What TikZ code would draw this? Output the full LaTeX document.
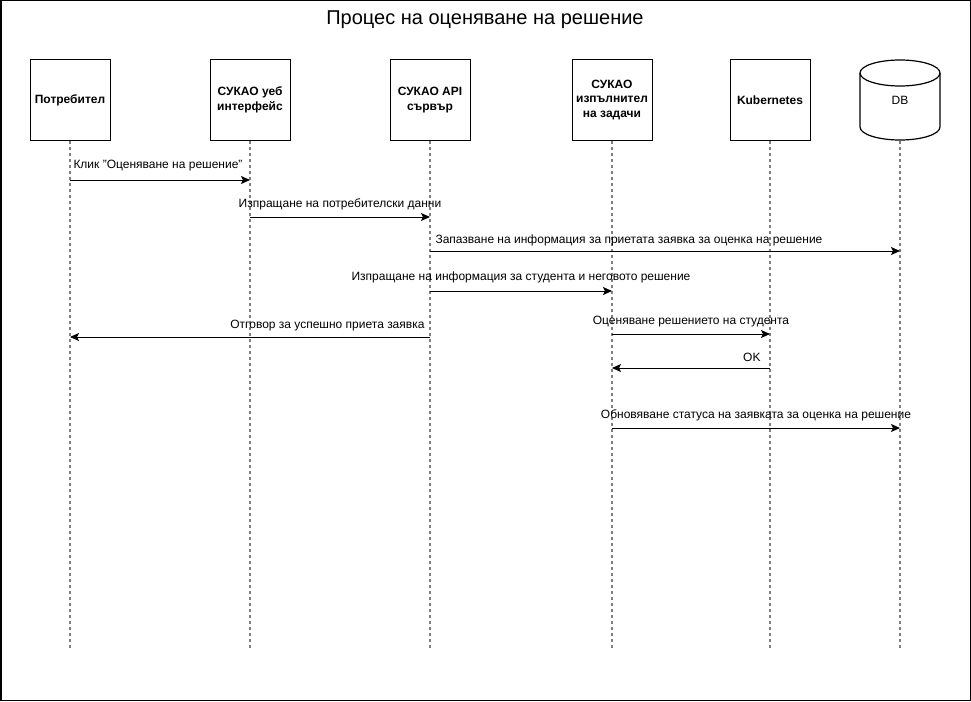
\documentclass[tikz,border=0pt]{standalone}
\usepackage{fontspec}
\setmainfont{Liberation Sans}
\usetikzlibrary{arrows.meta}

\tikzset{
    actor/.style={draw, line width=1pt, minimum width=80, minimum height=80, align=center,
        font=\fontsize{12}{14.5}\selectfont\bfseries},
    lifeline/.style={draw=gray, line width=1.2pt, dash pattern=on 3pt off 3pt},
    msg/.style={line width=1pt, -{Stealth[length=9pt, width=8pt, inset=2pt]}},
    lbl/.style={font=\fontsize{12}{14}\selectfont, inner sep=1pt},
}

\begin{document}
\begin{tikzpicture}[x=1pt, y=-1pt]
        \useasboundingbox (0,0) rectangle (971,701);
        \draw[line width=1.5pt] (0.75,0.75) rectangle (970.25,700.25);
        \node[font=\fontsize{20}{24}\selectfont] (title) at (485,20) {Процес на оценяване на решение};

        % participants
        \node[actor] (user) at (70,100) {Потребител};
        \node[actor] (web) at (250,100) {СУКАО уеб\\интерфейс};
        \node[actor] (api) at (430,100) {СУКАО API\\сървър};
        \node[actor] (exec) at (612,100) {СУКАО\\изпълнител\\на задачи};
        \node[actor] (kube) at (770,100) {Kubernetes};
        \node[actor, draw=none, font=\fontsize{12}{14.5}\selectfont] (db) at (900,100) {DB};
        \draw[line width=1.2pt] (900,73) ellipse [x radius=40, y radius=13];
        \draw[line width=1.2pt] (860,73) -- (860,127) .. controls (860,134.2) and (877.9,140) .. (900,140)
            .. controls (922.1,140) and (940,134.2) .. (940,127) -- (940,73);

        \foreach \n in {user, web, api, exec, kube, db} {
            \draw[lifeline] (\n.south) -- (\n.south |- 0,650);
        }

        % messages
        \draw[msg] (user |- 0,180) -- node[lbl, pos=0, anchor=south west, xshift=2pt, yshift=8pt] {Клик "Оценяване на решение"} (web |- 0,180);
        \draw[msg] (web |- 0,217) -- node[lbl, above=6pt] {Изпращане на потребителски данни} (api |- 0,217);
        \draw[msg] (api |- 0,251) -- node[lbl, pos=0, anchor=south west, xshift=4pt, yshift=4pt] {Запазване на информация за приетата заявка за оценка на решение} (db |- 0,251);
        \draw[msg] (api |- 0,291) -- node[lbl, above=7pt] {Изпращане на информация за студента и неговото решение} (exec |- 0,291);
        \draw[msg] (api |- 0,337) -- node[lbl, pos=0, anchor=south east, xshift=-4pt, yshift=5pt] {Отговор за успешно приета заявка} (user |- 0,337);
        \draw[msg] (exec |- 0,334) -- node[lbl, above=6pt] {Оценяване решението на студента} (kube |- 0,334);
        \draw[msg] (kube |- 0,368) -- node[lbl, pos=0, anchor=south east, xshift=-8pt, yshift=5pt] {OK} (exec |- 0,368);
        \draw[msg] (exec |- 0,428) -- node[lbl, above=6pt] {Обновяване статуса на заявката за оценка на решение} (db |- 0,428);
    \end{tikzpicture}
\end{document}
